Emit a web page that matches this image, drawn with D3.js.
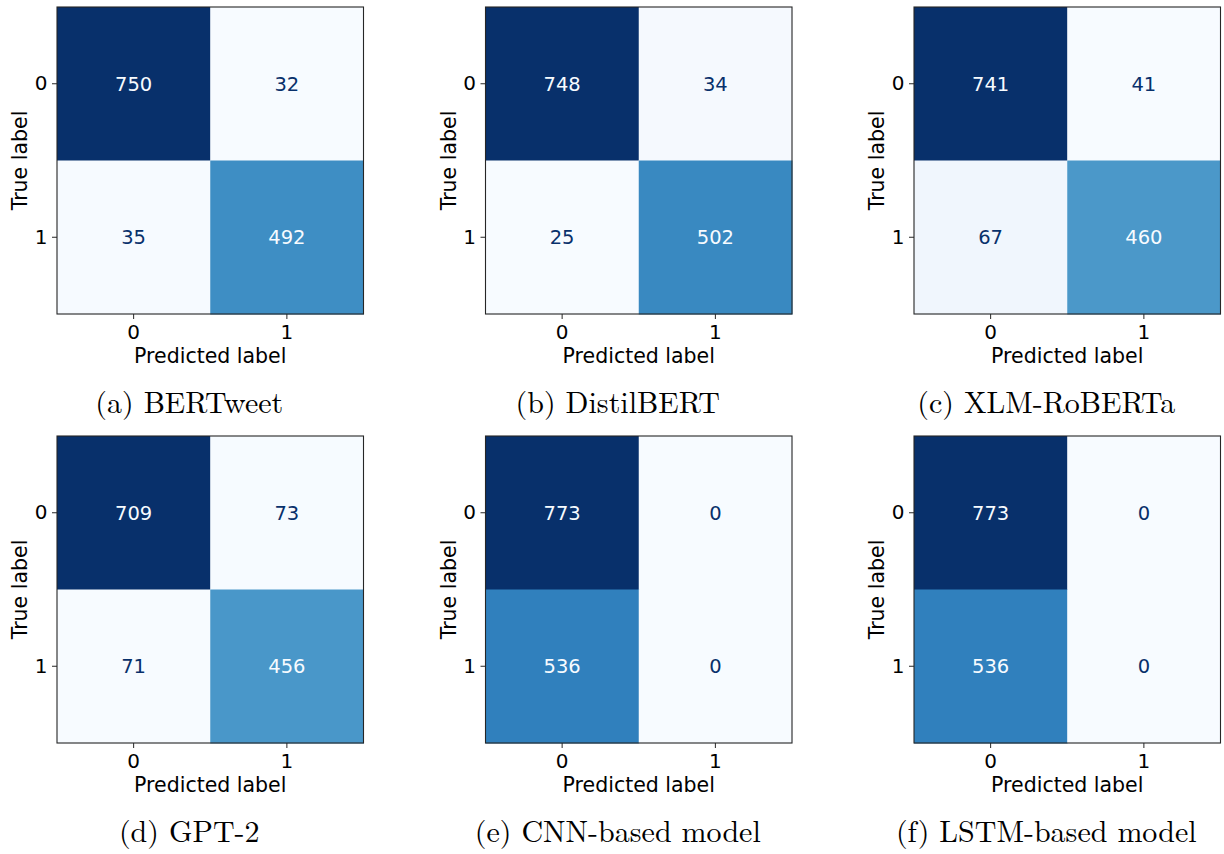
<!DOCTYPE html>
<html>
<head>
<meta charset="utf-8">
<script src="https://cdn.jsdelivr.net/npm/d3@7"></script>
<style>
  html, body { margin: 0; padding: 0; background: #ffffff; }
  svg { display: block; }
</style>
</head>
<body>
<svg id="chart" width="1224" height="854"></svg>
<script>
// ---- data ----
const classLabels = ["0", "1"];
const captions = ["(a) BERTweet", "(b) DistilBERT", "(c) XLM-RoBERTa",
                  "(d) GPT-2", "(e) CNN-based model", "(f) LSTM-based model"];
const bertweet   = [[750, 32], [35, 492]];
const distilbert = [[748, 34], [25, 502]];
const xlmroberta = [[741, 41], [67, 460]];
const gpt2       = [[709, 73], [71, 456]];
const cnnModel   = [[773, 0], [536, 0]];
const lstmModel  = [[773, 0], [536, 0]];
const matrices = [bertweet, distilbert, xlmroberta, gpt2, cnnModel, lstmModel];
const xAxisTitle = "Predicted label";
const yAxisTitle = "True label";

// matplotlib "Blues" colormap stops (piecewise linear)
const bluesStops = ["#f7fbff", "#deebf7", "#c6dbef", "#9ecae1", "#6baed6",
                    "#4292c6", "#2171b5", "#08519c", "#08306b"];

// ---- layout ----
const svg = d3.select("#chart");
const sansFont = "'DejaVu Sans', Verdana, sans-serif";
const serifFont = "'Latin Modern Roman', 'CMU Serif', 'Liberation Serif', 'Times New Roman', serif";
const cellW = 306.5, cellH = 307;
const colX = [57, 485.5, 914];
const rowY = [7, 436];

const blues = d3.scaleLinear()
  .domain(d3.range(bluesStops.length).map(i => i / (bluesStops.length - 1)))
  .range(bluesStops)
  .interpolate(d3.interpolateRgb)
  .clamp(true);

matrices.forEach((m, idx) => {
  const col = idx % 3, row = Math.floor(idx / 3);
  const g = svg.append("g").attr("transform", `translate(${colX[col]},${rowY[row]})`);

  const x = d3.scaleBand().domain(classLabels).range([0, cellW]);
  const y = d3.scaleBand().domain(classLabels).range([0, cellH]);

  const flat = [];
  m.forEach((r, i) => r.forEach((v, j) => flat.push({ t: classLabels[i], p: classLabels[j], v })));
  const vmin = d3.min(flat, d => d.v), vmax = d3.max(flat, d => d.v);
  const norm = d3.scaleLinear().domain([vmin, vmax]).range([0, 1]);
  const thresh = (vmin + vmax) / 2;

  g.selectAll("rect.cell").data(flat).join("rect")
    .attr("class", "cell")
    .attr("x", d => x(d.p))
    .attr("y", d => y(d.t))
    .attr("width", x.bandwidth() + 0.5)
    .attr("height", y.bandwidth() + 0.5)
    .attr("fill", d => blues(norm(d.v)));

  g.selectAll("text.val").data(flat).join("text")
    .attr("class", "val")
    .attr("x", d => x(d.p) + x.bandwidth() / 2)
    .attr("y", d => y(d.t) + y.bandwidth() / 2)
    .attr("dy", "0.36em")
    .attr("text-anchor", "middle")
    .attr("font-family", sansFont)
    .attr("font-size", "19.5px")
    .attr("fill", d => d.v > thresh ? bluesStops[0] : bluesStops[bluesStops.length - 1])
    .text(d => d.v);

  // frame
  g.append("rect")
    .attr("x", 0).attr("y", 0)
    .attr("width", cellW).attr("height", cellH)
    .attr("fill", "none")
    .attr("stroke", "#262626")
    .attr("stroke-width", 1.1);

  // axes
  const xa = g.append("g").attr("transform", `translate(0,${cellH})`)
    .call(d3.axisBottom(x).tickSize(5).tickPadding(6));
  const ya = g.append("g")
    .call(d3.axisLeft(y).tickSize(5).tickPadding(4.5));
  [xa, ya].forEach(a => {
    a.select(".domain").remove();
    a.selectAll(".tick line").attr("stroke", "#262626").attr("stroke-width", 1);
    a.selectAll(".tick text")
      .attr("font-family", sansFont)
      .attr("font-size", "20px")
      .attr("fill", "#000");
  });

  g.append("text")
    .attr("x", cellW / 2)
    .attr("y", cellH + 49)
    .attr("text-anchor", "middle")
    .attr("font-family", sansFont)
    .attr("font-size", "20.5px")
    .attr("fill", "#000")
    .text(xAxisTitle);

  g.append("text")
    .attr("transform", `translate(-30,${cellH / 2}) rotate(-90)`)
    .attr("text-anchor", "middle")
    .attr("font-family", sansFont)
    .attr("font-size", "20.5px")
    .attr("fill", "#000")
    .text(yAxisTitle);

  g.append("text")
    .attr("x", cellW / 2 - 21)
    .attr("y", 406)
    .attr("text-anchor", "middle")
    .attr("font-family", serifFont)
    .attr("font-size", "30px")
    .attr("fill", "#000")
    .text(captions[idx]);
});
</script>
</body>
</html>
